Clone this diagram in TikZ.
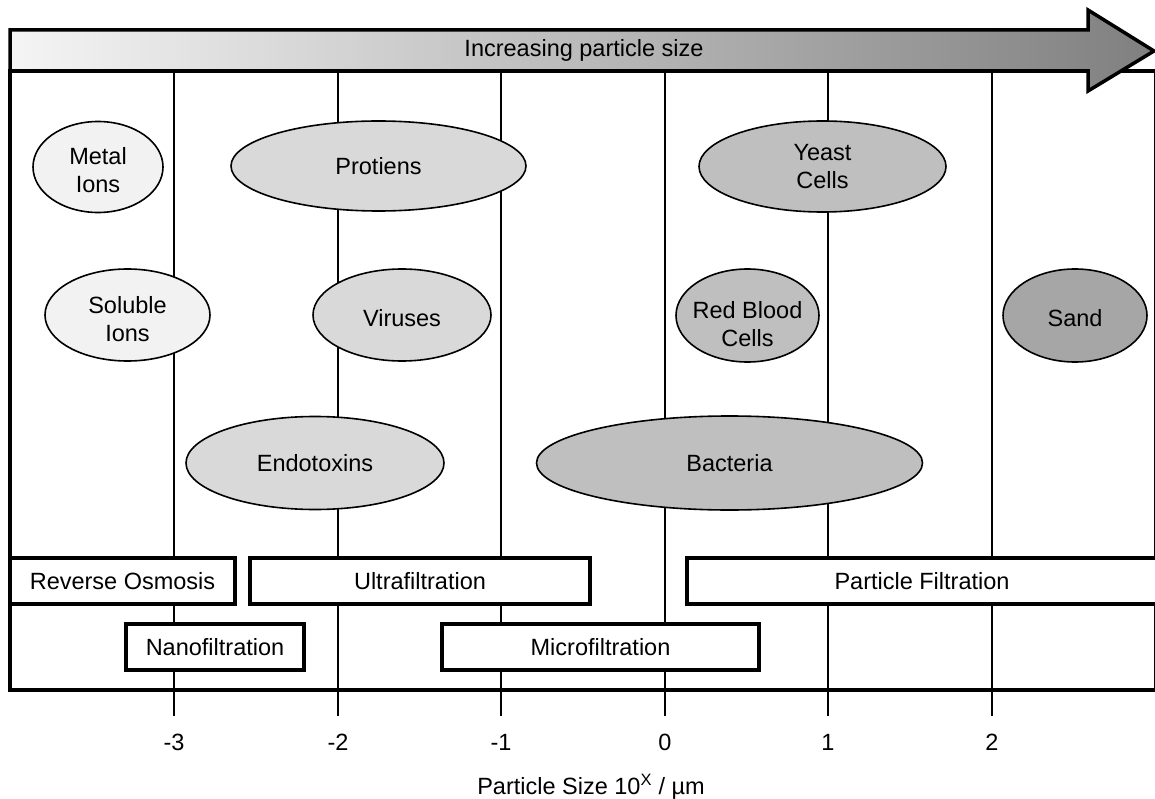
\documentclass[tikz,border=0pt]{standalone}
\usepackage{fontspec}
\setmainfont{Liberation Sans}
\usetikzlibrary{shapes.geometric}
\definecolor{cA}{gray}{0.95}
\definecolor{cB}{gray}{0.85}
\definecolor{cC}{gray}{0.75}
\definecolor{cD}{gray}{0.65}
\definecolor{arrL}{gray}{0.96}
\definecolor{arrR}{gray}{0.50}
\begin{document}
\begin{tikzpicture}[x=1pt,y=-1pt,
  txt/.style={font=\fontsize{23.5}{28}\selectfont},
  blob/.style={ellipse,draw=black,line width=1.6pt,inner sep=0pt},
  lbl/.style={txt,align=center,inner sep=0pt},
  proc/.style={rectangle,draw=black,line width=3.5pt,fill=white,inner sep=0pt,txt},
  gridline/.style={line width=1.8pt},
  frame/.style={line width=3.8pt,line join=miter}]
\useasboundingbox (0,0) rectangle (1155,799);

% grid lines and ticks
\foreach \x in {174,338,501,665,828,992} {
  \draw[gridline] (\x,71) -- (\x,716);
}
\foreach \x/\l in {174/-3,338/-2,501/-1,665/0,828/1,992/2} {
  \node[txt] (t\x) at (\x,742) {\l};
}
\node[txt] (axis) at (591,787) {Particle Size 10\textsuperscript{X} / µm};

% main frame
\draw[frame] (10,71) rectangle (1156,690);

% arrow
\path[draw=black,line width=3.5pt,line join=miter,left color=arrL,right color=arrR]
  (10,30) -- (1088,30) -- (1088,10) -- (1154,51) -- (1088,91) -- (1088,71) -- (10,71) -- cycle;
\node[txt] (arrtext) at (584,50) {Increasing particle size};

% particles
\node[blob,fill=cA,minimum width=130,minimum height=91] (metal) at (98,167) {};
\node[lbl] (metalT) at ([yshift=-3.5pt]metal.center) {Metal\\Ions};
\node[blob,fill=cB,minimum width=295,minimum height=90] (prot) at (378.5,166) {};
\node[lbl] (protT) at (prot.center) {Protiens};
\node[blob,fill=cC,minimum width=247,minimum height=91] (yeast) at (822.5,166.5) {};
\node[lbl] (yeastT) at (yeast.center) {Yeast\\Cells};
\node[blob,fill=cA,minimum width=165,minimum height=92] (sol) at (127.5,315) {};
\node[lbl] (solT) at ([yshift=-4pt]sol.center) {Soluble\\Ions};
\node[blob,fill=cB,minimum width=178,minimum height=92] (vir) at (402,315) {};
\node[lbl] (virT) at ([yshift=-3pt]vir.center) {Viruses};
\node[blob,fill=cC,minimum width=143,minimum height=93] (rbc) at (747.5,315.5) {};
\node[lbl] (rbcT) at ([yshift=-8.5pt]rbc.center) {Red Blood\\Cells};
\node[blob,fill=cD,minimum width=144,minimum height=93] (sand) at (1075,315.5) {};
\node[lbl] (sandT) at ([yshift=-3pt]sand.center) {Sand};
\node[blob,fill=cB,minimum width=258,minimum height=93] (endo) at (315,463) {};
\node[lbl] (endoT) at (endo.center) {Endotoxins};
\node[blob,fill=cC,minimum width=386,minimum height=94] (bact) at (729.5,463) {};
\node[lbl] (bactT) at (bact.center) {Bacteria};

% processes
\node[proc,minimum width=225,minimum height=46] (ro) at (122.5,581) {Reverse Osmosis};
\node[proc,minimum width=340,minimum height=46] (uf) at (420,581) {Ultrafiltration};
\node[proc,minimum width=470,minimum height=46] (pf) at (922,581) {Particle Filtration};
\node[proc,minimum width=178,minimum height=46] (nf) at (215,647) {Nanofiltration};
\node[proc,minimum width=317,minimum height=46] (mf) at (600.5,647) {Microfiltration};
\end{tikzpicture}
\end{document}
